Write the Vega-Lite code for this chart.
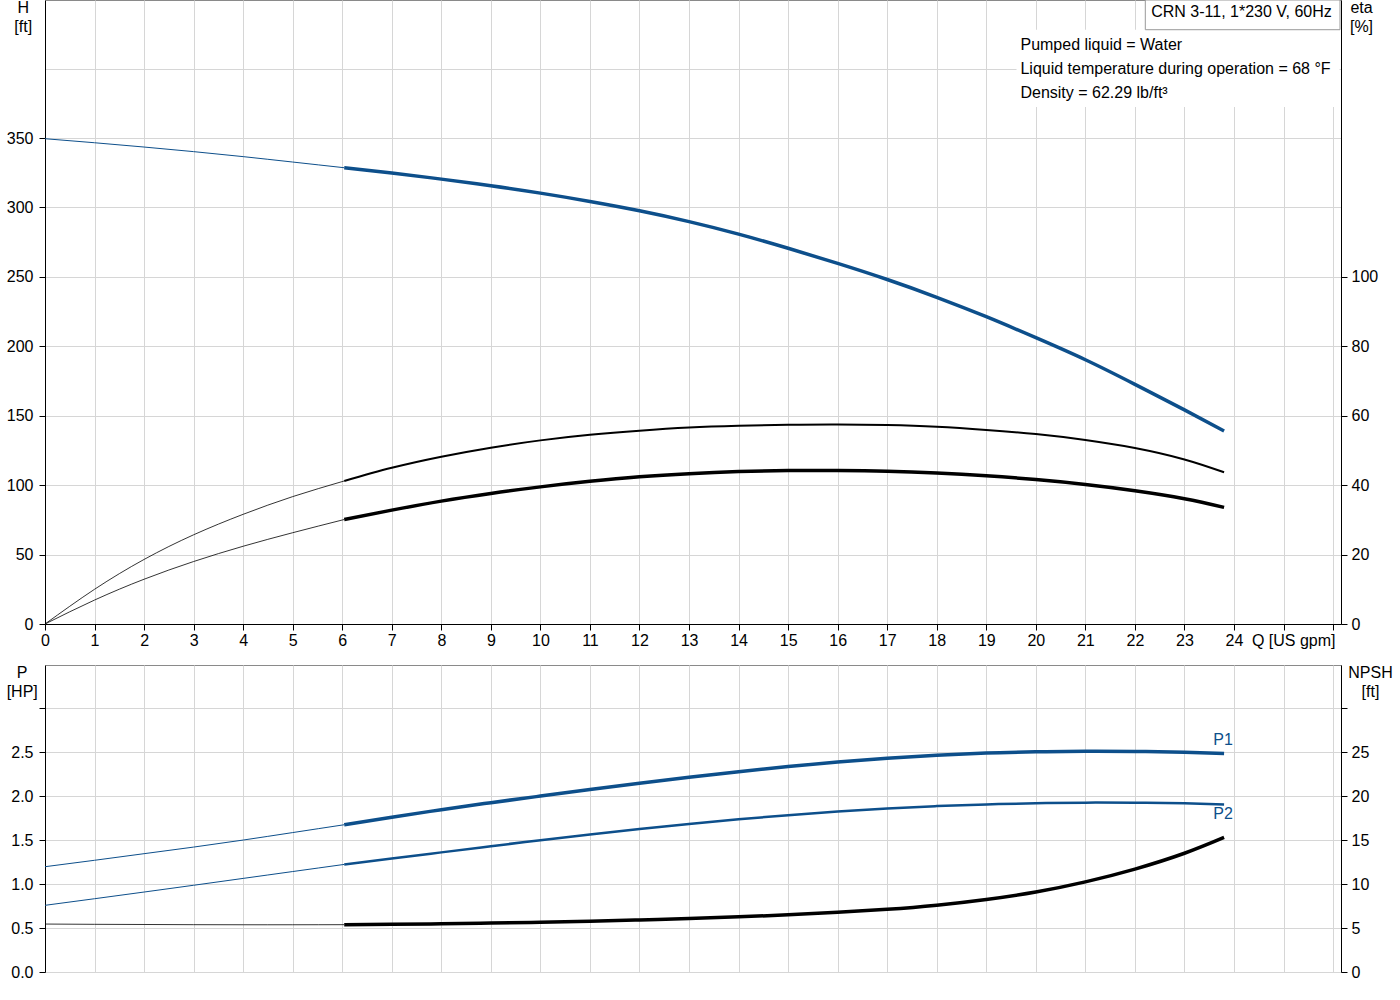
{
  "$schema": "https://vega.github.io/schema/vega-lite/v6.json",
  "background": "white",
  "padding": {"left": 5, "top": -2, "right": 0, "bottom": 0},
  "bounds": "flush",
  "spacing": 41,
  "datasets": {
    "curves": [
      {"curve": "H", "range": "ext", "q": 0, "v": 349.5},
      {"curve": "H", "range": "ext", "q": 1, "v": 346.6},
      {"curve": "H", "range": "ext", "q": 2, "v": 343.5},
      {"curve": "H", "range": "ext", "q": 3, "v": 340.2},
      {"curve": "H", "range": "ext", "q": 4, "v": 336.6},
      {"curve": "H", "range": "ext", "q": 5, "v": 332.7},
      {"curve": "H", "range": "ext", "q": 6.04, "v": 328.6},
      {"curve": "H", "range": "op", "q": 6.04, "v": 328.6},
      {"curve": "H", "range": "op", "q": 7, "v": 324.8},
      {"curve": "H", "range": "op", "q": 8, "v": 320.4},
      {"curve": "H", "range": "op", "q": 9, "v": 315.6},
      {"curve": "H", "range": "op", "q": 10, "v": 310.3},
      {"curve": "H", "range": "op", "q": 11, "v": 304.3},
      {"curve": "H", "range": "op", "q": 12, "v": 297.6},
      {"curve": "H", "range": "op", "q": 13, "v": 289.8},
      {"curve": "H", "range": "op", "q": 14, "v": 280.8},
      {"curve": "H", "range": "op", "q": 15, "v": 270.6},
      {"curve": "H", "range": "op", "q": 16, "v": 259.7},
      {"curve": "H", "range": "op", "q": 17, "v": 248.1},
      {"curve": "H", "range": "op", "q": 18, "v": 235.3},
      {"curve": "H", "range": "op", "q": 19, "v": 221.3},
      {"curve": "H", "range": "op", "q": 20, "v": 206.2},
      {"curve": "H", "range": "op", "q": 21, "v": 190.3},
      {"curve": "H", "range": "op", "q": 22, "v": 172.6},
      {"curve": "H", "range": "op", "q": 23, "v": 154.2},
      {"curve": "H", "range": "op", "q": 23.8, "v": 139.0},
      {"curve": "eta", "range": "ext", "q": 0, "v": 0},
      {"curve": "eta", "range": "ext", "q": 1, "v": 10.0},
      {"curve": "eta", "range": "ext", "q": 2, "v": 18.6},
      {"curve": "eta", "range": "ext", "q": 3, "v": 25.7},
      {"curve": "eta", "range": "ext", "q": 4, "v": 31.6},
      {"curve": "eta", "range": "ext", "q": 5, "v": 36.7},
      {"curve": "eta", "range": "ext", "q": 6.04, "v": 41.2},
      {"curve": "eta", "range": "op", "q": 6.04, "v": 41.2},
      {"curve": "eta", "range": "op", "q": 7, "v": 45.0},
      {"curve": "eta", "range": "op", "q": 8, "v": 48.2},
      {"curve": "eta", "range": "op", "q": 9, "v": 50.8},
      {"curve": "eta", "range": "op", "q": 10, "v": 52.9},
      {"curve": "eta", "range": "op", "q": 11, "v": 54.5},
      {"curve": "eta", "range": "op", "q": 12, "v": 55.7},
      {"curve": "eta", "range": "op", "q": 13, "v": 56.6},
      {"curve": "eta", "range": "op", "q": 14, "v": 57.1},
      {"curve": "eta", "range": "op", "q": 15, "v": 57.4},
      {"curve": "eta", "range": "op", "q": 16, "v": 57.5},
      {"curve": "eta", "range": "op", "q": 17, "v": 57.3},
      {"curve": "eta", "range": "op", "q": 18, "v": 56.8},
      {"curve": "eta", "range": "op", "q": 19, "v": 55.9},
      {"curve": "eta", "range": "op", "q": 20, "v": 54.7},
      {"curve": "eta", "range": "op", "q": 21, "v": 53.0},
      {"curve": "eta", "range": "op", "q": 22, "v": 50.7},
      {"curve": "eta", "range": "op", "q": 23, "v": 47.4},
      {"curve": "eta", "range": "op", "q": 23.8, "v": 43.7},
      {"curve": "etatot", "range": "ext", "q": 0, "v": 0},
      {"curve": "etatot", "range": "ext", "q": 1, "v": 6.9},
      {"curve": "etatot", "range": "ext", "q": 2, "v": 12.9},
      {"curve": "etatot", "range": "ext", "q": 3, "v": 18.0},
      {"curve": "etatot", "range": "ext", "q": 4, "v": 22.4},
      {"curve": "etatot", "range": "ext", "q": 5, "v": 26.3},
      {"curve": "etatot", "range": "ext", "q": 6.04, "v": 30.1},
      {"curve": "etatot", "range": "op", "q": 6.04, "v": 30.1},
      {"curve": "etatot", "range": "op", "q": 7, "v": 32.8},
      {"curve": "etatot", "range": "op", "q": 8, "v": 35.4},
      {"curve": "etatot", "range": "op", "q": 9, "v": 37.6},
      {"curve": "etatot", "range": "op", "q": 10, "v": 39.5},
      {"curve": "etatot", "range": "op", "q": 11, "v": 41.1},
      {"curve": "etatot", "range": "op", "q": 12, "v": 42.4},
      {"curve": "etatot", "range": "op", "q": 13, "v": 43.3},
      {"curve": "etatot", "range": "op", "q": 14, "v": 43.9},
      {"curve": "etatot", "range": "op", "q": 15, "v": 44.2},
      {"curve": "etatot", "range": "op", "q": 16, "v": 44.2},
      {"curve": "etatot", "range": "op", "q": 17, "v": 44.0},
      {"curve": "etatot", "range": "op", "q": 18, "v": 43.5},
      {"curve": "etatot", "range": "op", "q": 19, "v": 42.7},
      {"curve": "etatot", "range": "op", "q": 20, "v": 41.6},
      {"curve": "etatot", "range": "op", "q": 21, "v": 40.2},
      {"curve": "etatot", "range": "op", "q": 22, "v": 38.4},
      {"curve": "etatot", "range": "op", "q": 23, "v": 36.1},
      {"curve": "etatot", "range": "op", "q": 23.8, "v": 33.6},
      {"curve": "P1", "range": "ext", "q": 0, "v": 1.197},
      {"curve": "P1", "range": "ext", "q": 1, "v": 1.27},
      {"curve": "P1", "range": "ext", "q": 2, "v": 1.345},
      {"curve": "P1", "range": "ext", "q": 3, "v": 1.42},
      {"curve": "P1", "range": "ext", "q": 4, "v": 1.5},
      {"curve": "P1", "range": "ext", "q": 5, "v": 1.585},
      {"curve": "P1", "range": "ext", "q": 6.04, "v": 1.674},
      {"curve": "P1", "range": "op", "q": 6.04, "v": 1.674},
      {"curve": "P1", "range": "op", "q": 7, "v": 1.76},
      {"curve": "P1", "range": "op", "q": 8, "v": 1.845},
      {"curve": "P1", "range": "op", "q": 9, "v": 1.925},
      {"curve": "P1", "range": "op", "q": 10, "v": 2.0},
      {"curve": "P1", "range": "op", "q": 11, "v": 2.075},
      {"curve": "P1", "range": "op", "q": 12, "v": 2.145},
      {"curve": "P1", "range": "op", "q": 13, "v": 2.213},
      {"curve": "P1", "range": "op", "q": 14, "v": 2.277},
      {"curve": "P1", "range": "op", "q": 15, "v": 2.335},
      {"curve": "P1", "range": "op", "q": 16, "v": 2.387},
      {"curve": "P1", "range": "op", "q": 17, "v": 2.431},
      {"curve": "P1", "range": "op", "q": 18, "v": 2.465},
      {"curve": "P1", "range": "op", "q": 19, "v": 2.489},
      {"curve": "P1", "range": "op", "q": 20, "v": 2.503},
      {"curve": "P1", "range": "op", "q": 21, "v": 2.509},
      {"curve": "P1", "range": "op", "q": 22, "v": 2.507},
      {"curve": "P1", "range": "op", "q": 23, "v": 2.498},
      {"curve": "P1", "range": "op", "q": 23.8, "v": 2.485},
      {"curve": "P2", "range": "ext", "q": 0, "v": 0.758},
      {"curve": "P2", "range": "ext", "q": 1, "v": 0.833},
      {"curve": "P2", "range": "ext", "q": 2, "v": 0.909},
      {"curve": "P2", "range": "ext", "q": 3, "v": 0.986},
      {"curve": "P2", "range": "ext", "q": 4, "v": 1.064},
      {"curve": "P2", "range": "ext", "q": 5, "v": 1.142},
      {"curve": "P2", "range": "ext", "q": 6.04, "v": 1.223},
      {"curve": "P2", "range": "op", "q": 6.04, "v": 1.223},
      {"curve": "P2", "range": "op", "q": 7, "v": 1.29},
      {"curve": "P2", "range": "op", "q": 8, "v": 1.36},
      {"curve": "P2", "range": "op", "q": 9, "v": 1.43},
      {"curve": "P2", "range": "op", "q": 10, "v": 1.498},
      {"curve": "P2", "range": "op", "q": 11, "v": 1.563},
      {"curve": "P2", "range": "op", "q": 12, "v": 1.625},
      {"curve": "P2", "range": "op", "q": 13, "v": 1.683},
      {"curve": "P2", "range": "op", "q": 14, "v": 1.736},
      {"curve": "P2", "range": "op", "q": 15, "v": 1.783},
      {"curve": "P2", "range": "op", "q": 16, "v": 1.825},
      {"curve": "P2", "range": "op", "q": 17, "v": 1.86},
      {"curve": "P2", "range": "op", "q": 18, "v": 1.886},
      {"curve": "P2", "range": "op", "q": 19, "v": 1.905},
      {"curve": "P2", "range": "op", "q": 20, "v": 1.918},
      {"curve": "P2", "range": "op", "q": 21, "v": 1.925},
      {"curve": "P2", "range": "op", "q": 22, "v": 1.925},
      {"curve": "P2", "range": "op", "q": 23, "v": 1.918},
      {"curve": "P2", "range": "op", "q": 23.8, "v": 1.905},
      {"curve": "NPSH", "range": "ext", "q": 0, "v": 5.45},
      {"curve": "NPSH", "range": "ext", "q": 1, "v": 5.42},
      {"curve": "NPSH", "range": "ext", "q": 2, "v": 5.4},
      {"curve": "NPSH", "range": "ext", "q": 3, "v": 5.38},
      {"curve": "NPSH", "range": "ext", "q": 4, "v": 5.37},
      {"curve": "NPSH", "range": "ext", "q": 5, "v": 5.37},
      {"curve": "NPSH", "range": "ext", "q": 6.04, "v": 5.38},
      {"curve": "NPSH", "range": "op", "q": 6.04, "v": 5.38},
      {"curve": "NPSH", "range": "op", "q": 7, "v": 5.42},
      {"curve": "NPSH", "range": "op", "q": 8, "v": 5.48},
      {"curve": "NPSH", "range": "op", "q": 9, "v": 5.56},
      {"curve": "NPSH", "range": "op", "q": 10, "v": 5.66},
      {"curve": "NPSH", "range": "op", "q": 11, "v": 5.78},
      {"curve": "NPSH", "range": "op", "q": 12, "v": 5.92},
      {"curve": "NPSH", "range": "op", "q": 13, "v": 6.08},
      {"curve": "NPSH", "range": "op", "q": 14, "v": 6.27},
      {"curve": "NPSH", "range": "op", "q": 15, "v": 6.5},
      {"curve": "NPSH", "range": "op", "q": 16, "v": 6.78},
      {"curve": "NPSH", "range": "op", "q": 17, "v": 7.13},
      {"curve": "NPSH", "range": "op", "q": 18, "v": 7.6},
      {"curve": "NPSH", "range": "op", "q": 19, "v": 8.25},
      {"curve": "NPSH", "range": "op", "q": 20, "v": 9.1},
      {"curve": "NPSH", "range": "op", "q": 21, "v": 10.25},
      {"curve": "NPSH", "range": "op", "q": 22, "v": 11.7},
      {"curve": "NPSH", "range": "op", "q": 23, "v": 13.5},
      {"curve": "NPSH", "range": "op", "q": 23.8, "v": 15.3}
    ]
  },
  "data": {"name": "curves"},
  "config": {
    "font": "Liberation Sans",
    "view": {"stroke": "#8a8a8a", "strokeWidth": 1},
    "axis": {
      "labelFont": "Liberation Sans",
      "labelFontSize": 16,
      "labelColor": "#000000",
      "titleFont": "Liberation Sans",
      "titleFontSize": 16,
      "titleFontWeight": "normal",
      "titleColor": "#000000",
      "domainColor": "#000000",
      "domainWidth": 1,
      "tickColor": "#000000",
      "tickSize": 6,
      "gridColor": "#d6d6d6",
      "gridWidth": 1,
      "labelPadding": 5,
      "labelFlush": false,
      "labelOverlap": false,
      "titleAngle": 0,
      "titleAlign": "center",
      "titleBaseline": "alphabetic",
      "titleLineHeight": 19
    },
    "text": {"font": "Liberation Sans", "fontSize": 16}
  },
  "vconcat": [
    {
      "width": 1296,
      "height": 624,
      "resolve": {"scale": {"y": "independent"}},
      "layer": [
        {
          "encoding": {
            "x": {
              "field": "q", "type": "quantitative",
              "scale": {"domain": [0, 26.16], "nice": false, "zero": false},
              "axis": {
                "values": [0,1,2,3,4,5,6,7,8,9,10,11,12,13,14,15,16,17,18,19,20,21,22,23,24,25,26],
                "labelExpr": "datum.value <= 24 ? datum.label : ''",
                "grid": true,
                "labelPadding": 2,
                "title": "Q [US gpm]",
                "titleX": 1206.4,
                "titleY": 21,
                "titleAlign": "left"
              }
            },
            "y": {
              "field": "v", "type": "quantitative",
              "scale": {"domain": [0, 449.4], "nice": false},
              "axis": {
                "values": [0, 50, 100, 150, 200, 250, 300, 350, 400],
                "labelExpr": "datum.value > 350 ? '' : datum.label",
                "tickOpacity": {"condition": {"test": "datum.value > 350", "value": 0}, "value": 1},
                "grid": true,
                "labelPadding": 6,
                "title": ["H", "[ft]"],
                "titleX": -22.3,
                "titleY": 12.7
              }
            }
          },
          "layer": [
            {
              "transform": [{"filter": "datum.curve === 'H' && datum.range === 'ext'"}],
              "mark": {"type": "line", "color": "#0d4f8b", "strokeWidth": 1, "interpolate": "natural"}
            },
            {
              "transform": [{"filter": "datum.curve === 'H' && datum.range === 'op'"}],
              "mark": {"type": "line", "color": "#0d4f8b", "strokeWidth": 3.5, "interpolate": "natural"}
            }
          ]
        },
        {
          "layer": [
            {
              "data": {"values": [{"note": "media"}]},
              "mark": {"type": "rect", "fill": "white"},
              "encoding": {
                "x": {"datum": 19.61, "type": "quantitative", "scale": {"domain": [0, 26.16], "nice": false, "zero": false}},
                "x2": {"datum": 26.13},
                "y": {"datum": 372.3, "type": "quantitative", "scale": {"domain": [0, 449.4], "nice": false}, "axis": null},
                "y2": {"datum": 428}
              }
            },
            {
              "data": {"values": [{"note": "pump"}]},
              "mark": {"type": "rect", "fill": "white", "stroke": "#999999", "strokeWidth": 1},
              "encoding": {
                "x": {"datum": 22.21, "type": "quantitative", "scale": {"domain": [0, 26.16], "nice": false, "zero": false}},
                "x2": {"datum": 26.14},
                "y": {"datum": 428, "type": "quantitative", "scale": {"domain": [0, 449.4], "nice": false}, "axis": null},
                "y2": {"datum": 449.4}
              }
            },
            {
              "data": {"values": [{"note": "CRN 3-11, 1*230 V, 60Hz"}]},
              "mark": {"type": "text", "align": "left", "baseline": "alphabetic", "color": "#000000", "fontSize": 16},
              "encoding": {
                "x": {"datum": 22.33, "type": "quantitative", "scale": {"domain": [0, 26.16], "nice": false, "zero": false}},
                "y": {"datum": 437.1, "type": "quantitative", "scale": {"domain": [0, 449.4], "nice": false}, "axis": null},
                "text": {"field": "note"}
              }
            },
            {
              "data": {"values": [{"note": "Pumped liquid = Water\nLiquid temperature during operation = 68 °F\nDensity = 62.29 lb/ft³"}]},
              "mark": {"type": "text", "align": "left", "baseline": "alphabetic", "color": "#000000", "fontSize": 16, "lineBreak": "\n", "lineHeight": 24},
              "encoding": {
                "x": {"datum": 19.69, "type": "quantitative", "scale": {"domain": [0, 26.16], "nice": false, "zero": false}},
                "y": {"datum": 413.4, "type": "quantitative", "scale": {"domain": [0, 449.4], "nice": false}, "axis": null},
                "text": {"field": "note"}
              }
            }
          ]
        },
        {
          "encoding": {
            "x": {"field": "q", "type": "quantitative", "scale": {"domain": [0, 26.16], "nice": false, "zero": false}},
            "y": {
              "field": "v", "type": "quantitative",
              "scale": {"domain": [0, 179.76], "nice": false},
              "axis": {
                "orient": "right",
                "values": [0, 20, 40, 60, 80, 100],
                "grid": false,
                "labelPadding": 4,
                "title": ["eta", "[%]"],
                "titleX": 20,
                "titleY": 12.3
              }
            }
          },
          "layer": [
            {
              "transform": [{"filter": "datum.curve === 'eta' && datum.range === 'ext'"}],
              "mark": {"type": "line", "color": "#000000", "strokeWidth": 0.8, "interpolate": "natural"}
            },
            {
              "transform": [{"filter": "datum.curve === 'eta' && datum.range === 'op'"}],
              "mark": {"type": "line", "color": "#000000", "strokeWidth": 2, "interpolate": "natural"}
            },
            {
              "transform": [{"filter": "datum.curve === 'etatot' && datum.range === 'ext'"}],
              "mark": {"type": "line", "color": "#000000", "strokeWidth": 0.8, "interpolate": "natural"}
            },
            {
              "transform": [{"filter": "datum.curve === 'etatot' && datum.range === 'op'"}],
              "mark": {"type": "line", "color": "#000000", "strokeWidth": 3.5, "interpolate": "natural"}
            }
          ]
        }
      ]
    },
    {
      "width": 1296,
      "height": 307,
      "resolve": {"scale": {"y": "independent"}},
      "encoding": {
        "x": {
          "field": "q", "type": "quantitative",
          "scale": {"domain": [0, 26.16], "nice": false, "zero": false},
          "axis": {
            "values": [0,1,2,3,4,5,6,7,8,9,10,11,12,13,14,15,16,17,18,19,20,21,22,23,24,25,26],
            "labels": false,
            "ticks": false,
            "domain": false,
            "grid": true,
            "title": null
          }
        }
      },
      "layer": [
        {
          "encoding": {
            "y": {
              "field": "v", "type": "quantitative",
              "scale": {"domain": [0, 3.49], "nice": false},
              "axis": {
                "values": [0, 0.5, 1, 1.5, 2, 2.5, 3],
                "format": ".1f",
                "labelExpr": "datum.value > 2.9 ? '' : datum.label",
                "grid": true,
                "labelPadding": 6,
                "title": ["P", "[HP]"],
                "titleX": -23.3,
                "titleY": 12.7
              }
            }
          },
          "layer": [
            {
              "transform": [{"filter": "datum.curve === 'P1' && datum.range === 'ext'"}],
              "mark": {"type": "line", "color": "#0d4f8b", "strokeWidth": 1, "interpolate": "natural"}
            },
            {
              "transform": [{"filter": "datum.curve === 'P1' && datum.range === 'op'"}],
              "mark": {"type": "line", "color": "#0d4f8b", "strokeWidth": 3.5, "interpolate": "natural"}
            },
            {
              "transform": [{"filter": "datum.curve === 'P2' && datum.range === 'ext'"}],
              "mark": {"type": "line", "color": "#0d4f8b", "strokeWidth": 1, "interpolate": "natural"}
            },
            {
              "transform": [{"filter": "datum.curve === 'P2' && datum.range === 'op'"}],
              "mark": {"type": "line", "color": "#0d4f8b", "strokeWidth": 2.5, "interpolate": "natural"}
            },
            {
              "transform": [{"filter": "datum.curve === 'P1' && datum.q === 23.8"}],
              "mark": {"type": "text", "color": "#0d4f8b", "fontSize": 16, "align": "center", "baseline": "middle", "dx": -1, "dy": -13},
              "encoding": {"text": {"field": "curve"}}
            },
            {
              "transform": [{"filter": "datum.curve === 'P2' && datum.q === 23.8"}],
              "mark": {"type": "text", "color": "#0d4f8b", "fontSize": 16, "align": "center", "baseline": "middle", "dx": -1, "dy": 10},
              "encoding": {"text": {"field": "curve"}}
            }
          ]
        },
        {
          "encoding": {
            "y": {
              "field": "v", "type": "quantitative",
              "scale": {"domain": [0, 34.9], "nice": false},
              "axis": {
                "orient": "right",
                "values": [0, 5, 10, 15, 20, 25, 30],
                "labelExpr": "datum.value > 29 ? '' : datum.label",
                "grid": false,
                "labelPadding": 4,
                "title": ["NPSH", "[ft]"],
                "titleX": 29,
                "titleY": 12.3
              }
            }
          },
          "layer": [
            {
              "transform": [{"filter": "datum.curve === 'NPSH' && datum.range === 'ext'"}],
              "mark": {"type": "line", "color": "#000000", "strokeWidth": 0.8, "interpolate": "natural"}
            },
            {
              "transform": [{"filter": "datum.curve === 'NPSH' && datum.range === 'op'"}],
              "mark": {"type": "line", "color": "#000000", "strokeWidth": 3.5, "interpolate": "natural"}
            }
          ]
        }
      ]
    }
  ]
}
